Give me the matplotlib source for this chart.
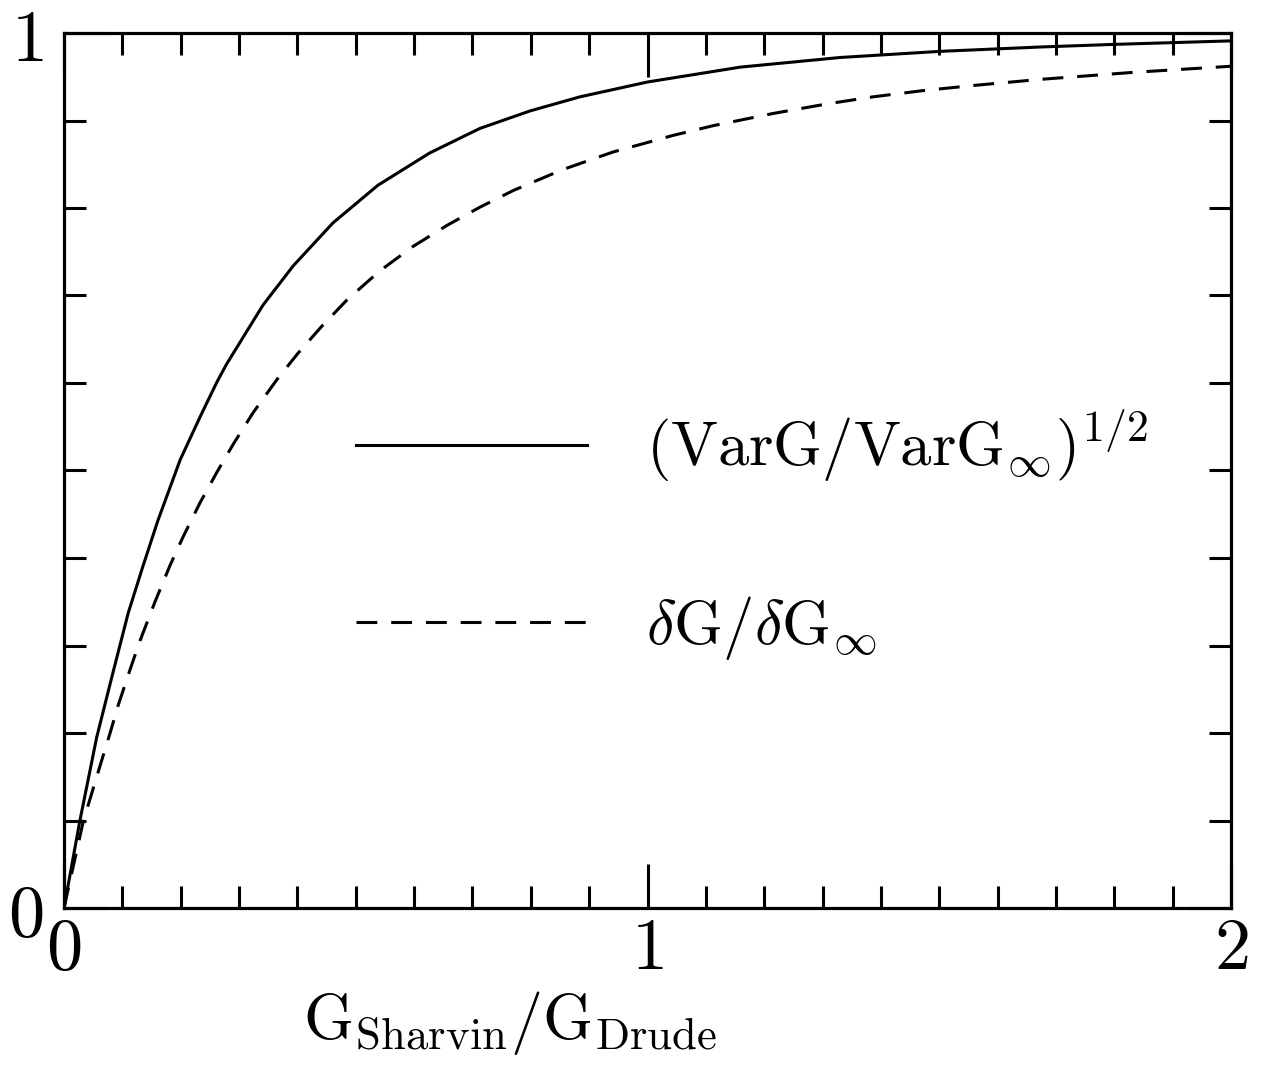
import matplotlib
matplotlib.use("Agg")
import matplotlib.pyplot as plt
from matplotlib.ticker import MultipleLocator, FixedLocator

plt.rcParams['mathtext.fontset'] = 'cm'
plt.rcParams['font.family'] = ['DejaVu Serif']
plt.rcParams['lines.scale_dashes'] = False

# ---- data ----
x_var = [0, 0.027, 0.056, 0.082, 0.110, 0.135, 0.161, 0.199, 0.233, 0.262, 0.279,
         0.341, 0.393, 0.461, 0.538, 0.627, 0.713, 0.799, 0.884, 1.0, 1.159, 1.330,
         1.501, 1.673, 1.800, 2.0]
y_var = [0, 0.099, 0.195, 0.264, 0.337, 0.390, 0.443, 0.512, 0.561, 0.601, 0.622,
         0.689, 0.734, 0.783, 0.826, 0.863, 0.891, 0.911, 0.927, 0.944, 0.961, 0.972,
         0.979, 0.984, 0.987, 0.991]

x_dg = [0, 0.033, 0.062, 0.079, 0.093, 0.113, 0.130, 0.156, 0.182, 0.204, 0.233,
        0.262, 0.290, 0.324, 0.365, 0.401, 0.442, 0.485, 0.541, 0.598, 0.656, 0.713,
        0.770, 0.855, 0.941, 1.044, 1.112, 1.215, 1.308, 1.386, 1.470, 1.558, 1.673,
        1.832, 2.0]
y_dg = [0, 0.099, 0.163, 0.200, 0.232, 0.272, 0.305, 0.350, 0.392, 0.424, 0.463,
        0.498, 0.530, 0.566, 0.604, 0.634, 0.665, 0.695, 0.728, 0.756, 0.780, 0.801,
        0.820, 0.844, 0.864, 0.883, 0.894, 0.908, 0.919, 0.927, 0.934, 0.940, 0.947,
        0.955, 0.962]

x_major = [0, 1, 2]
x_major_labels = ['$0$', '$1$', '$2$']
y_major = [0, 1]
y_major_labels = ['$0$', '$1$']

label_var = r'$(\mathrm{VarG}/\mathrm{VarG}_{\infty})^{1/2}$'
label_dg = r'$\delta\mathrm{G}/\delta\mathrm{G}_{\infty}$'
xlabel = r'$\mathrm{G}_{\mathrm{Sharvin}}/\mathrm{G}_{\mathrm{Drude}}$'

# ---- figure ----
W, H = 1262, 1072
fig = plt.figure(figsize=(W / 100, H / 100), dpi=100)
ax = fig.add_axes([64 / W, 1 - 908 / H, (1231 - 64) / W, (908 - 33) / H])

ax.plot(x_var, y_var, color='black', lw=2.2, label=label_var)
ax.plot(x_dg, y_dg, color='black', lw=2.2, linestyle=(0, (15, 10)), label=label_dg)

ax.set_xlim(0, 2)
ax.set_ylim(0, 1)

ax.xaxis.set_major_locator(FixedLocator(x_major))
ax.xaxis.set_minor_locator(MultipleLocator(0.1))
ax.set_xticklabels(x_major_labels)
ax.yaxis.set_major_locator(FixedLocator(y_major))
ax.yaxis.set_minor_locator(MultipleLocator(0.1))
ax.set_yticklabels(y_major_labels)

for s in ax.spines.values():
    s.set_linewidth(2.3)

ax.tick_params(which='both', direction='in', top=True, right=True, width=2.2)
ax.tick_params(which='major', length=32, labelsize=52)
ax.tick_params(which='minor', length=16)
ax.tick_params(axis='x', which='major', pad=4)
ax.tick_params(axis='y', which='major', pad=15)

ax.set_xlabel(xlabel, fontsize=46)
ax.xaxis.set_label_coords(0.382, -0.093)

leg = ax.legend(loc='center left', bbox_to_anchor=(0.25, 0.427), frameon=False,
                fontsize=45, handlelength=3.7, handletextpad=0.95, labelspacing=1.75,
                borderpad=0, borderaxespad=0)

fig.savefig('out.png', dpi=100)
